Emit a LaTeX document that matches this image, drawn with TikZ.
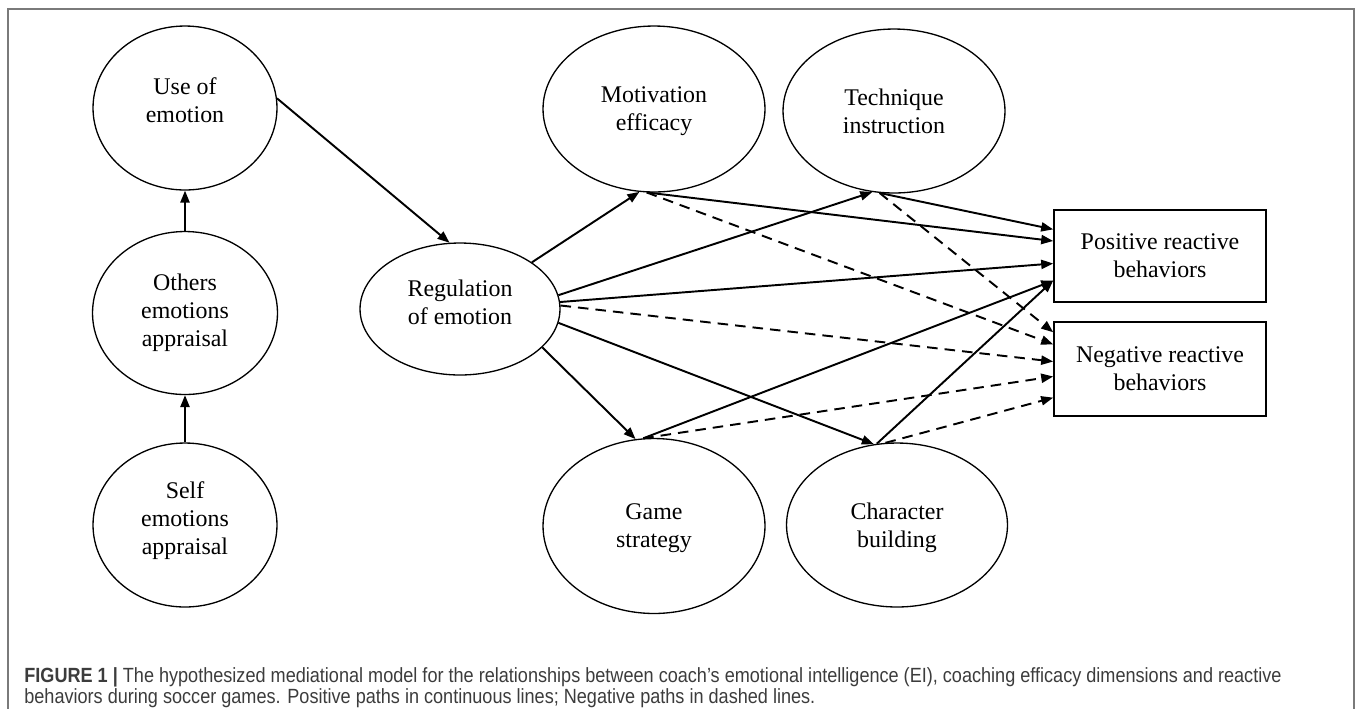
\documentclass[tikz,border=0pt]{standalone}
\usepackage{fontspec}
\setmainfont{Liberation Serif}
\newfontfamily\capfont[FakeStretch=0.88]{Liberation Sans}
\usepackage{xcolor}
\usetikzlibrary{arrows.meta,shapes.geometric}

\definecolor{framegray}{HTML}{7A7A7A}
\definecolor{captext}{HTML}{3C3C3C}

\tikzset{
  factor/.style={draw,ellipse,line width=0.75pt,inner sep=0pt,align=center,
    font=\fontsize{13.6}{15.9}\selectfont},
  outcome/.style={draw,rectangle,line width=1pt,inner sep=0pt,align=center,
    minimum width=4.24cm,font=\fontsize{13.6}{15.9}\selectfont},
  solidpath/.style={->,line width=1.1pt},
  dashpath/.style={->,line width=1.1pt,dash pattern=on 6pt off 4pt},
  captionline/.style={anchor=base west,inner sep=0pt,text=captext,
    font=\capfont\fontsize{11.7}{13}\selectfont}
}

\begin{document}
\begin{tikzpicture}[line cap=butt,line join=miter,>={Triangle[length=6.8pt,width=5.2pt]},
  x=0.02cm,y=-0.02cm]
\useasboundingbox (0,0) rectangle (1358,708);
% frame round the figure and its caption
\draw[framegray,line width=0.75pt] (8,712) -- (8,9) -- (1354,9) -- (1354,712);

% EI dimensions
\node[factor,minimum width=3.68cm,minimum height=3.28cm,text depth=9pt] (use) at (185,108) {Use of\\emotion};
\node[factor,minimum width=3.70cm,minimum height=3.26cm] (others) at (185,313) {Others\\emotions\\appraisal};
\node[factor,minimum width=3.68cm,minimum height=3.28cm,text depth=7.5pt] (self) at (185,525) {Self\\emotions\\appraisal};
\node[factor,minimum width=4.00cm,minimum height=2.64cm,text depth=8pt] (reg) at (460,309) {Regulation\\of emotion};

% coaching efficacy
\node[factor,minimum width=4.44cm,minimum height=3.32cm,text depth=0pt] (motiv) at (654,109) {Motivation\\efficacy};
\node[factor,minimum width=4.44cm,minimum height=3.28cm] (techn) at (894,111) {Technique\\instruction};
\node[factor,minimum width=4.44cm,minimum height=3.50cm,text depth=0pt] (game) at (654,526) {Game\\strategy};
\node[factor,minimum width=4.42cm,minimum height=3.28cm,text depth=0pt] (charb) at (897,525) {Character\\building};

% reactive behaviors
\node[outcome,minimum height=1.84cm] (posb) at (1160,256) {Positive reactive\\behaviors};
\node[outcome,minimum height=1.88cm] (negb) at (1160,369) {Negative reactive\\behaviors};

% paths
\draw[solidpath] (self.north) -- (others.south);
\draw[solidpath] (others.north) -- (use.south);
\draw[solidpath] (use.6) -- (reg.99);
\draw[solidpath] (reg.33) -- (motiv.260);
\draw[solidpath] (reg.8) -- (techn.255);
\draw[solidpath] (reg.4) -- (posb.184);
\draw[dashpath] (reg.2) -- (negb.176);
\draw[solidpath] (reg.-8) -- (charb.106);
\draw[solidpath] (reg.-25) -- (game.102);
\draw[solidpath] (motiv.265) -- (posb.172.5);
\draw[dashpath] (motiv.265) -- (negb.167);
\draw[solidpath] (techn.260) -- (posb.166);
\draw[dashpath] (techn.260) -- (negb.161);
\draw[solidpath] (game.97) -- (posb.193);
\draw[dashpath] (game.97) -- (negb.184);
\draw[solidpath] (charb.104) -- (posb.193);
\draw[dashpath] (charb.98) -- (negb.195);

% caption
\node[captionline] (capa) at (24,682) {\textbf{FIGURE 1 |} The hypothesized mediational model for the relationships between coach’s emotional intelligence (EI), coaching efficacy dimensions and reactive};
\node[captionline] (capb) at (24,703) {behaviors during soccer games. Positive paths in continuous lines; Negative paths in dashed lines.};
\end{tikzpicture}
\end{document}
